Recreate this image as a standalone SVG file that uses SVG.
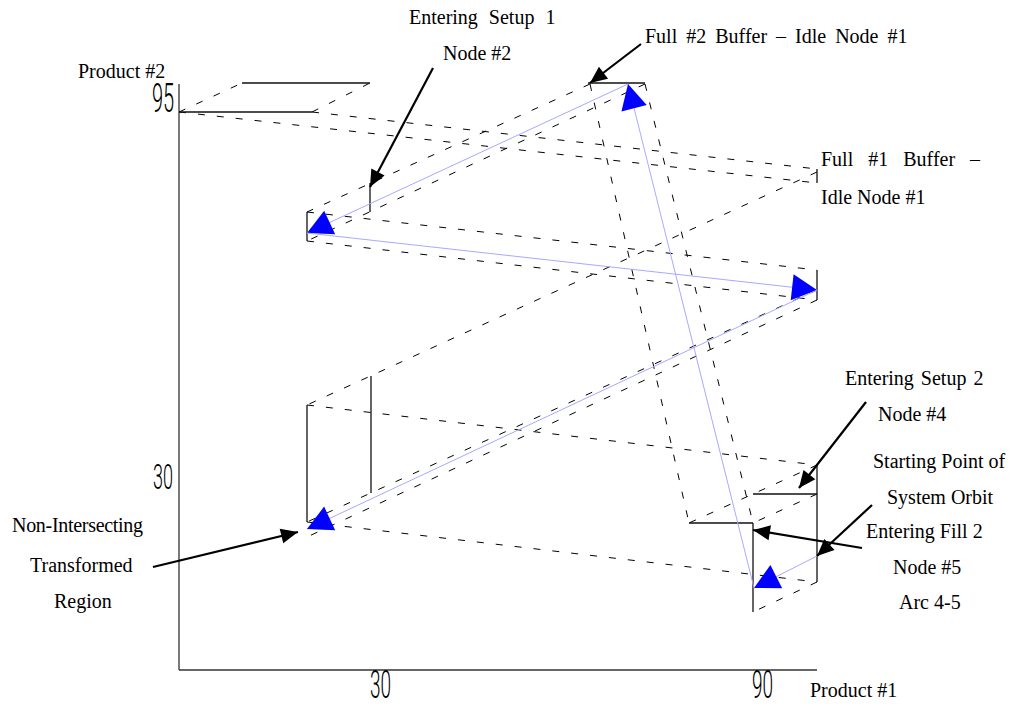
<svg xmlns="http://www.w3.org/2000/svg" width="1021" height="707" viewBox="0 0 1021 707">
<defs>
<style>
.lbl{font-family:"Liberation Serif","Times New Roman",serif;font-size:20px;fill:#000}
.num{font-family:Roboto,Lato,"Liberation Sans",sans-serif;font-weight:300;fill:#000}
.dash{stroke:#000;stroke-width:1;stroke-dasharray:7 12;fill:none}
.solid{stroke:#111;stroke-width:1.3;fill:none}
.axis{stroke:#333;stroke-width:1.3;fill:none}
.orbit{stroke:#a8a8ff;stroke-width:1;fill:none;marker-end:url(#bluehead)}
.ann{stroke:#000;stroke-width:2.2;fill:none;marker-end:url(#blackhead)}
</style>
<marker id="bluehead" markerUnits="userSpaceOnUse" viewBox="-26 -14 27 28" refX="0" refY="0" markerWidth="27" markerHeight="28" orient="auto" overflow="visible">
<path d="M0,0 L-25,-13 L-25,13 Z" fill="#0000ff"/>
</marker>
<marker id="blackhead" markerUnits="userSpaceOnUse" viewBox="-18 -8 19 16" refX="0" refY="0" markerWidth="19" markerHeight="16" orient="auto" overflow="visible">
<path d="M0,0 L-17,-7.5 L-17,7.5 Z" fill="#000"/>
</marker>
</defs>
<rect width="1021" height="707" fill="#fff"/>

<g id="axes">
<line class="axis" x1="179" y1="84" x2="179" y2="670"/>
<line class="axis" x1="179" y1="670" x2="817" y2="670"/>
<text class="num" font-size="40" transform="translate(152,112) scale(0.5,1)">95</text>
<text class="num" font-size="36" transform="translate(153,489) scale(0.5,1)">30</text>
<text class="num" font-size="38" transform="translate(370,698) scale(0.5,1)">30</text>
<text class="num" font-size="38" transform="translate(752,698) scale(0.5,1)">90</text>
<text class="lbl" x="78" y="78">Product #2</text>
<text class="lbl" x="810" y="697">Product #1</text>
</g>

<g id="tubes">
<line class="dash" x1="179" y1="112" x2="242" y2="83"/>
<line class="dash" x1="312" y1="112" x2="370" y2="83"/>
<line class="dash" x1="179" y1="112" x2="817" y2="183"/>
<line class="dash" x1="312" y1="112" x2="817" y2="169"/>
<line class="dash" x1="590" y1="84" x2="307" y2="212"/>
<line class="dash" x1="645" y1="84" x2="307" y2="241"/>
<line class="dash" x1="590" y1="84" x2="689" y2="523"/>
<line class="dash" x1="645" y1="84" x2="753" y2="523"/>
<line class="dash" x1="307" y1="212" x2="817" y2="270"/>
<line class="dash" x1="307" y1="241" x2="817" y2="300"/>
<line class="dash" x1="817" y1="172" x2="307" y2="405"/>
<line class="dash" x1="817" y1="290" x2="307" y2="522"/>
<line class="dash" x1="817" y1="300" x2="307" y2="537"/>
<line class="dash" x1="307" y1="405" x2="817" y2="465"/>
<line class="dash" x1="307" y1="522" x2="817" y2="582"/>
<line class="dash" x1="817" y1="465" x2="689" y2="523"/>
<line class="dash" x1="817" y1="494" x2="753" y2="523"/>
<line class="dash" x1="817" y1="582" x2="753" y2="612"/>
</g>

<g id="regions">
<line class="solid" x1="179" y1="112" x2="312" y2="112"/>
<line class="solid" x1="242" y1="83" x2="370" y2="83" stroke="#555"/>
<line class="solid" x1="588" y1="83" x2="645" y2="83" stroke="#555" stroke-width="1.6"/>
<line class="solid" x1="370" y1="183" x2="370" y2="212"/>
<line class="solid" x1="307" y1="212" x2="307" y2="241"/>
<line class="solid" x1="817" y1="169" x2="817" y2="183"/>
<line class="solid" x1="817" y1="270" x2="817" y2="300"/>
<line class="solid" x1="307" y1="405" x2="307" y2="522"/>
<line class="solid" x1="371" y1="376" x2="371" y2="493"/>
<line class="solid" x1="817" y1="465" x2="817" y2="582"/>
<line class="solid" x1="753" y1="494" x2="817" y2="494"/>
<line class="solid" x1="689" y1="523" x2="753" y2="523"/>
<line class="solid" x1="753" y1="523" x2="753" y2="612"/>
</g>

<g id="orbit">
<line class="orbit" x1="817" y1="556" x2="754" y2="588"/>
<line class="orbit" x1="754" y1="588" x2="628" y2="84"/>
<line class="orbit" x1="628" y1="84" x2="307" y2="233"/>
<line class="orbit" x1="307" y1="233" x2="817" y2="290"/>
<line class="orbit" x1="817" y1="290" x2="307" y2="529"/>
</g>

<g id="label-setup1">
<text class="lbl" x="409" y="24" style="word-spacing:6px">Entering Setup 1</text>
<text class="lbl" x="443" y="60">Node #2</text>
<line class="ann" x1="433" y1="68" x2="370" y2="187"/>
</g>
<g id="label-full2">
<text class="lbl" x="645" y="43" style="word-spacing:4px">Full #2 Buffer – Idle Node #1</text>
<line class="ann" x1="641" y1="44" x2="590" y2="83"/>
</g>
<g id="label-full1">
<text class="lbl" x="821" y="166" style="word-spacing:10px">Full #1 Buffer –</text>
<text class="lbl" x="821" y="204">Idle Node #1</text>
</g>
<g id="label-setup2">
<text class="lbl" x="845" y="385" style="word-spacing:2px">Entering Setup 2</text>
<text class="lbl" x="878" y="421">Node #4</text>
<line class="ann" x1="866" y1="402" x2="799" y2="488"/>
</g>
<g id="label-start">
<text class="lbl" x="873" y="468">Starting Point of</text>
<text class="lbl" x="887" y="504">System Orbit</text>
<line class="ann" x1="872" y1="505" x2="817" y2="556"/>
</g>
<g id="label-fill2">
<text class="lbl" x="866" y="538">Entering Fill 2</text>
<text class="lbl" x="893" y="574">Node #5</text>
<text class="lbl" x="899" y="609">Arc 4-5</text>
<line class="ann" x1="862" y1="548" x2="753" y2="530"/>
</g>
<g id="label-region">
<text class="lbl" x="12" y="532" style="letter-spacing:-0.3px">Non-Intersecting</text>
<text class="lbl" x="30" y="572">Transformed</text>
<text class="lbl" x="54" y="608">Region</text>
<line class="ann" x1="153" y1="567" x2="298" y2="532"/>
</g>
</svg>
